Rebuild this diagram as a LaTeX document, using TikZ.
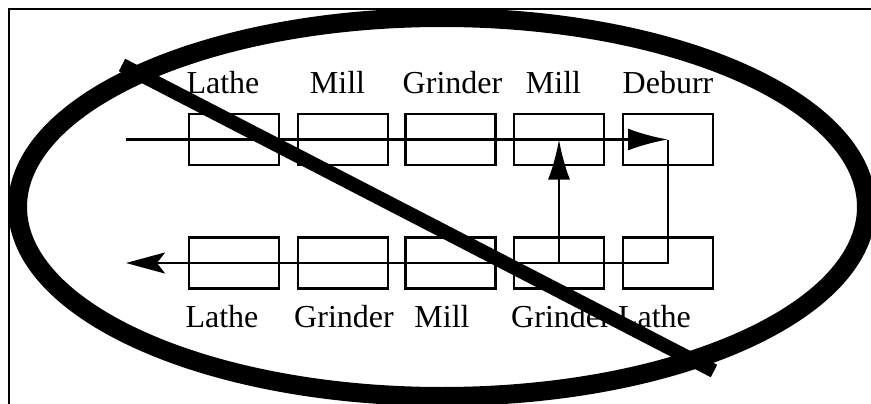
\documentclass[tikz,border=0pt]{standalone}
\usepackage{fontspec}
\setmainfont{Liberation Serif}
\usetikzlibrary{arrows.meta}

\begin{document}
\begin{tikzpicture}[x=1pt, y=-1pt,
    box/.style={rectangle, draw, line width=2.6pt, minimum width=90pt,
                minimum height=51pt, inner sep=0pt},
    lbl/.style={anchor=base, inner sep=0pt, font=\fontsize{32}{38}\selectfont},
    flow/.style={line width=2.6pt},
    head/.style={-{Latex[length=40pt,width=22pt]}},
    back/.style={-{Stealth[length=39pt,width=21pt,inset=8pt]}},
  ]
    \useasboundingbox (0,0) rectangle (871,404);
    \draw[line width=2pt] (8.5,404) -- (8.5,9) -- (871,9);

    % first row of cells
    \node[box] (t1) at (234,139.5) {};
    \node[box] (t2) at (343,139.5) {};
    \node[box] (t3) at (450.5,139.5) {};
    \node[box] (t4) at (559,139.5) {};
    \node[box] (t5) at (668,139.5) {};
    % second row of cells
    \node[box] (b1) at (234,263) {};
    \node[box] (b2) at (343,263) {};
    \node[box] (b3) at (450.5,263) {};
    \node[box] (b4) at (559,263) {};
    \node[box] (b5) at (668,263) {};

    \node[lbl] (lt1) at (223,93) {Lathe};
    \node[lbl] (lt2) at (337.5,93) {Mill};
    \node[lbl] (lt3) at (452.5,93) {Grinder};
    \node[lbl] (lt4) at (553.5,93) {Mill};
    \node[lbl] (lt5) at (668,93) {Deburr};
    \node[lbl] (lb1) at (222,327) {Lathe};
    \node[lbl] (lb2) at (344,327) {Grinder};
    \node[lbl] (lb3) at (442,327) {Mill};
    \node[lbl] (lb4) at (561,327) {Grinder};
    \node[lbl] (lb5) at (654.5,327) {Lathe};

    \coordinate (entry) at (126,139.5);
    \coordinate (exit) at (126,263);
    \draw[flow, head] (entry) -- (t5.center);
    \draw[flow, back] (t5.center) -- (b5.center) -- (exit);
    \draw[flow, head] (b4.center) -- (t4.center);

    % crossed out
    \draw[line width=19pt] (442,207) ellipse [x radius=424.5pt, y radius=189.5pt];
    \draw[line width=14pt] (122,65) -- (714,371);
  \end{tikzpicture}
\end{document}
